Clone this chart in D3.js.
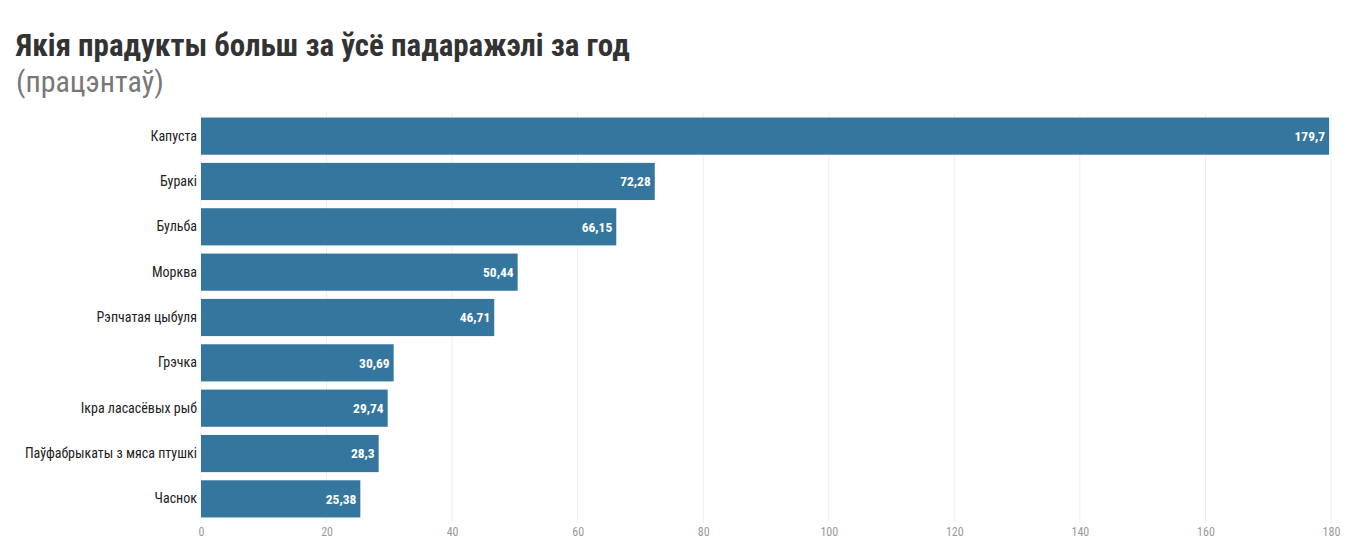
<!DOCTYPE html>
<html>
<head>
<meta charset="utf-8">
<script src="https://cdn.jsdelivr.net/npm/d3@7"></script>
<style>
  body { margin: 0; background: #fff; }
  text { font-family: "Roboto Condensed", "Liberation Sans Narrow", Roboto, sans-serif; }
</style>
</head>
<body>
<div id="chart"></div>
<script>
// Data
const categories = ["Капуста", "Буракі", "Бульба", "Морква", "Рэпчатая цыбуля",
  "Грэчка", "Ікра ласасёвых рыб", "Паўфабрыкаты з мяса птушкі", "Часнок"];
const values = [179.7, 72.28, 66.15, 50.44, 46.71, 30.69, 29.74, 28.3, 25.38];
const xTicks = [0, 20, 40, 60, 80, 100, 120, 140, 160, 180];

const title = "Якія прадукты больш за ўсё падаражэлі за год";
const subtitle = "(працэнтаў)";

const W = 1353, H = 558;
const margin = { top: 113, right: 22, bottom: 36, left: 201 };
const fontStack = "'Roboto Condensed', 'Liberation Sans Narrow', Roboto, sans-serif";

const svg = d3.select("#chart").append("svg")
  .attr("width", W).attr("height", H);

// Title block
svg.append("text")
  .attr("x", 16).attr("y", 56)
  .attr("font-size", 31).attr("font-weight", 700)
  .attr("fill", "#333")
  .text(title);

svg.append("text")
  .attr("x", 16).attr("y", 92)
  .attr("font-size", 30).attr("font-weight", 400)
  .attr("fill", "#777")
  .text(subtitle);

const x = d3.scaleLinear()
  .domain([0, 180])
  .range([margin.left, W - margin.right]);

const y = d3.scaleBand()
  .domain(categories)
  .range([margin.top, H - margin.bottom])
  .paddingInner(0.18)
  .paddingOuter(0.1);

// Grid
svg.append("g")
  .selectAll("line")
  .data(xTicks)
  .join("line")
    .attr("x1", d => x(d)).attr("x2", d => x(d))
    .attr("y1", margin.top).attr("y2", H - margin.bottom + 1)
    .attr("stroke", "#eee")
    .attr("stroke-width", 1);

// X axis
const xAxis = svg.append("g")
  .attr("transform", `translate(0,${H - margin.bottom})`)
  .call(d3.axisBottom(x).tickValues(xTicks).tickSize(0).tickPadding(5));
xAxis.select(".domain").remove();
xAxis.selectAll("text")
  .attr("font-size", 12)
  .attr("fill", "#999")
  .style("font-family", fontStack);

// Y axis labels
const yAxis = svg.append("g")
  .attr("transform", `translate(${margin.left},0)`)
  .call(d3.axisLeft(y).tickSize(0).tickPadding(4));
yAxis.select(".domain").remove();
yAxis.selectAll("text")
  .attr("font-size", 14)
  .attr("fill", "#222")
  .style("font-family", fontStack);

// Bars
svg.append("g")
  .selectAll("rect")
  .data(values)
  .join("rect")
    .attr("x", x(0))
    .attr("y", (d, i) => y(categories[i]))
    .attr("width", d => x(d) - x(0))
    .attr("height", y.bandwidth())
    .attr("fill", "#35769f");

// Value labels
const fmt = d => String(d).replace(".", ",");
svg.append("g")
  .selectAll("text")
  .data(values)
  .join("text")
    .attr("x", d => x(d) - 4)
    .attr("y", (d, i) => y(categories[i]) + y.bandwidth() / 2)
    .attr("dy", "0.35em")
    .attr("text-anchor", "end")
    .attr("font-size", 13.5)
    .attr("font-weight", 700)
    .attr("fill", "#fff")
    .text(fmt);
</script>
</body>
</html>
